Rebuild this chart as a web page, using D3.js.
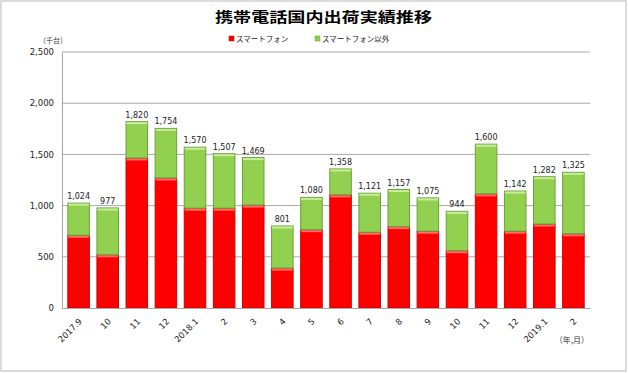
<!DOCTYPE html>
<html>
<head>
<meta charset="utf-8">
<script src="https://cdn.jsdelivr.net/npm/d3@7"></script>
<style>
body { margin: 0; background: #fff; }
</style>
</head>
<body>
<div id="chart"></div>
<script>
// Datos
const categories = ['2017.9', '10', '11', '12', '2018.1', '2', '3', '4', '5', '6', '7', '8', '9', '10', '11', '12', '2019.1', '2'];
const smartphone = [710, 520, 1465, 1270, 975, 975, 1005, 390, 765, 1105, 740, 795, 750, 560, 1115, 750, 820, 725];
const others = [314, 457, 355, 484, 595, 532, 464, 411, 315, 253, 381, 362, 325, 384, 485, 392, 462, 600];
const totalLabels = [1024, 977, 1820, 1754, 1570, 1507, 1469, 801, 1080, 1358, 1121, 1157, 1075, 944, 1600, 1142, 1282, 1325];
const yTicks = [0, 500, 1000, 1500, 2000, 2500];
const seriesNames = ['スマートフォン', 'スマートフォン以外'];

const W = 628, H = 373;
const plot = {left: 62, right: 590, top: 52, bottom: 308};
const fonts = "'DejaVu Sans', Verdana, sans-serif";
const jpFont = "'Noto Sans CJK JP', sans-serif";

// Estilos de cada serie: relleno, borde, franja superior
const styles = [
    {fill: '#ff0000', stroke: '#d00000', top: '#ff6a6a'},
    {fill: '#92d050', stroke: '#6e9f3a', top: '#c8ee9c'}
];

const svg = d3.select('#chart')
    .append('svg')
    .attr('width', W)
    .attr('height', H);

svg.append('rect')
    .attr('width', W).attr('height', H)
    .attr('fill', '#fff');

// Marco exterior
svg.append('rect')
    .attr('x', 1).attr('y', 1)
    .attr('width', W - 3).attr('height', H - 3)
    .attr('fill', 'none')
    .attr('stroke', '#cfcfcf')
    .attr('stroke-width', 1.5);

// Título
svg.append('text')
    .attr('x', 215)
    .attr('y', 22)
    .attr('textLength', 217)
    .attr('lengthAdjust', 'spacingAndGlyphs')
    .style('font-family', jpFont)
    .style('font-size', '14px')
    .style('font-weight', 'bold')
    .text('携帯電話国内出荷実績推移');

// Escalas
const x = d3.scaleBand()
    .domain(d3.range(categories.length))
    .range([plot.left, plot.right])
    .paddingInner(0.26)
    .paddingOuter(0.2);

const y = d3.scaleLinear()
    .domain([0, 2500])
    .range([plot.bottom, plot.top]);

// Líneas de cuadrícula
svg.append('g')
    .selectAll('line')
    .data(yTicks.slice(1))
    .enter()
    .append('line')
    .attr('x1', plot.left).attr('x2', plot.right)
    .attr('y1', d => y(d)).attr('y2', d => y(d))
    .attr('stroke', '#a8a8a8')
    .attr('stroke-width', 1);

// Eje Y
const yAxis = svg.append('g')
    .attr('transform', `translate(${plot.left},0)`)
    .call(d3.axisLeft(y).tickValues(yTicks).tickFormat(d3.format(',')).tickSize(0).tickPadding(8));
yAxis.select('.domain').attr('stroke', '#a8a8a8');
yAxis.selectAll('text')
    .style('font-family', fonts)
    .style('font-size', '8.5px')
    .style('fill', '#222');

svg.append('text')
    .attr('x', 53)
    .attr('y', 43)
    .attr('text-anchor', 'middle')
    .style('font-family', jpFont)
    .style('font-size', '7px')
    .style('fill', '#333')
    .text('（千台）');

// Barras apiladas
const rows = categories.map((c, i) => ({i: i, s0: smartphone[i], s1: others[i]}));
const stack = d3.stack().keys(['s0', 's1'])(rows);

const layers = svg.selectAll('.layer')
    .data(stack)
    .enter()
    .append('g')
    .attr('class', 'layer');

layers.each(function(layer, k) {
    const g = d3.select(this);
    const st = styles[k];
    g.selectAll('rect.bar')
        .data(layer)
        .enter()
        .append('rect')
        .attr('class', 'bar')
        .attr('x', d => x(d.data.i))
        .attr('y', d => y(d[1]))
        .attr('width', x.bandwidth())
        .attr('height', d => y(d[0]) - y(d[1]))
        .attr('fill', st.fill)
        .attr('stroke', st.stroke)
        .attr('stroke-width', 1);
    // franja clara arriba de cada segmento
    g.selectAll('rect.hl')
        .data(layer)
        .enter()
        .append('rect')
        .attr('class', 'hl')
        .attr('x', d => x(d.data.i) + 0.5)
        .attr('y', d => y(d[1]) + 0.5)
        .attr('width', x.bandwidth() - 1)
        .attr('height', 2)
        .attr('fill', st.top);
});

// Eje X
const xAxis = svg.append('g')
    .attr('transform', `translate(0,${plot.bottom})`)
    .call(d3.axisBottom(x).tickFormat(i => categories[i]).tickSize(0));
xAxis.select('.domain').attr('stroke', '#a8a8a8');
xAxis.selectAll('text')
    .attr('y', 0)
    .attr('dy', 0)
    .attr('text-anchor', 'end')
    .attr('transform', 'translate(4,14) rotate(-45)')
    .style('font-family', fonts)
    .style('font-size', '8.5px')
    .style('fill', '#222');

svg.append('text')
    .attr('x', 589)
    .attr('y', 343)
    .attr('text-anchor', 'end')
    .style('font-family', jpFont)
    .style('font-size', '8px')
    .style('fill', '#333')
    .text('（年,月）');

// Etiquetas de totales
svg.selectAll('.bar-label')
    .data(totalLabels)
    .enter()
    .append('text')
    .attr('class', 'bar-label')
    .attr('x', (d, i) => x(i) + x.bandwidth() / 2)
    .attr('y', d => y(d) - 4)
    .attr('text-anchor', 'middle')
    .style('font-family', fonts)
    .style('font-size', '8px')
    .style('fill', '#222')
    .text(d => d3.format(',')(d));

// Leyenda
const legendX = [229, 315];
const legend = svg.selectAll('.legend')
    .data(seriesNames)
    .enter()
    .append('g')
    .attr('class', 'legend')
    .attr('transform', (d, i) => `translate(${legendX[i]},39)`);
legend.append('rect')
    .attr('x', 0).attr('y', -3)
    .attr('width', 5).attr('height', 5)
    .attr('fill', (d, i) => styles[i].fill)
    .attr('stroke', (d, i) => styles[i].stroke)
    .attr('stroke-width', 0.5);
legend.append('text')
    .attr('x', 7)
    .attr('y', 2.5)
    .style('font-family', jpFont)
    .style('font-size', '7.5px')
    .style('fill', '#222')
    .text(d => d);
</script>
</body>
</html>
